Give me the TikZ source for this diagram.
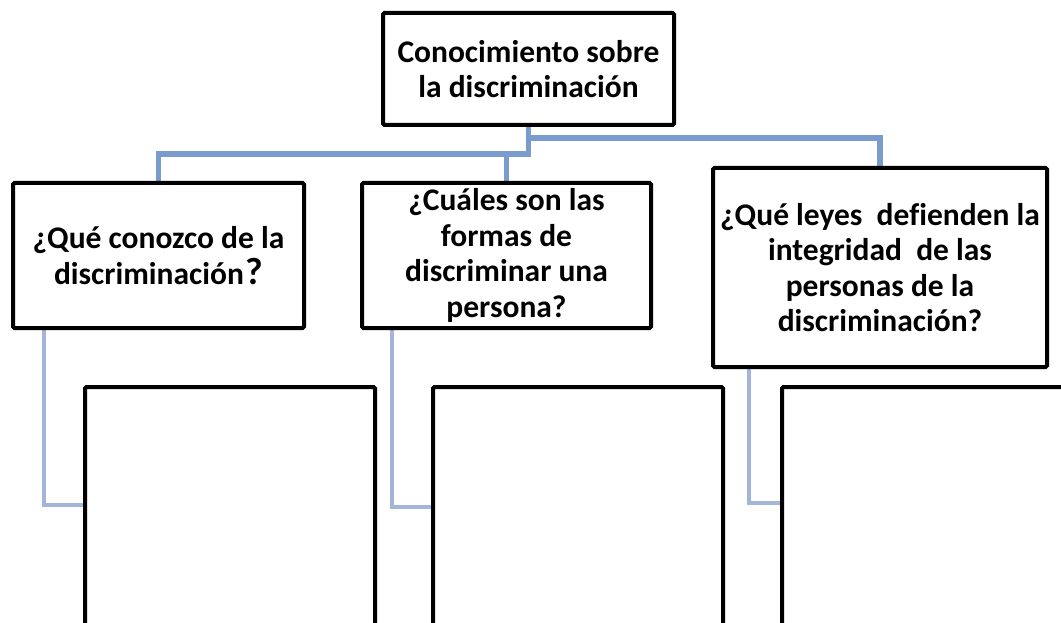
\documentclass[tikz,border=0pt]{standalone}
\usepackage{fontspec}
\setmainfont[Ligatures=NoCommon]{Carlito}
\usetikzlibrary{backgrounds}
\definecolor{connA}{HTML}{7A9BCD}
\definecolor{connB}{HTML}{A3B5D8}
\tikzset{
  box/.style={draw=black, line width=4pt, fill=white, rounded corners=1.5pt, inner sep=0pt, align=center,
    font=\fontsize{31.5}{35.5}\selectfont\bfseries},
  connup/.style={draw=connA, line width=5.5pt},
  connlow/.style={draw=connB, line width=4.5pt},
}
\begin{document}
\begin{tikzpicture}[x=1pt,y=-1pt]
\useasboundingbox (0,0) rectangle (1061,623);
\clip (0,0) rectangle (1061,623);
% top box 383-674, 13-125
\node[box, minimum width=291pt, minimum height=112pt] (top) at (528.5,69) {Conocimiento sobre\\la discriminación};
% level 2
\node[box, minimum width=291pt, minimum height=145pt] (left) at (158.5,255.5) {¿Qué conozco de la\\discriminación\kern1.5pt{\fontsize{38}{35.5}\selectfont ?}};
\node[box, minimum width=289pt, minimum height=145pt] (mid) at (506.5,255.5) {¿Cuáles son las\\formas de\\discriminar una\\persona?};
\node[box, minimum width=334pt, minimum height=199pt] (right) at (880,267.5) {¿Qué leyes\ \ defienden la\\integridad\ \ de las\\personas de la\\discriminación?};
% level 3 (extend beyond the lower edge)
\node[box, minimum width=290pt, minimum height=313pt] (low1) at (230,543.5) {};
\node[box, minimum width=290pt, minimum height=313pt] (low2) at (578,543.5) {};
\node[box, minimum width=318pt, minimum height=313pt] (low3) at (941,543.5) {};
\coordinate (ya) at (0,154);
\coordinate (yb) at (0,138);
\coordinate (l1) at (0,505);
\coordinate (l2) at (0,507);
\coordinate (l3) at (0,503);
\coordinate (x1) at (44,0);
\coordinate (x2) at (392,0);
\coordinate (x3) at (749,0);
\begin{scope}[on background layer]
  \draw[connup] (top.south) -- (top.south |- ya) -| (left.north);
  \draw[connup] (mid.north) -- (mid.north |- ya);
  \draw[connup] (top.south |- yb) -| (right.north);
  \draw[connlow] (x1 |- left.south) |- (low1.west |- l1);
  \draw[connlow] (x2 |- mid.south) |- (low2.west |- l2);
  \draw[connlow] (x3 |- right.south) |- (low3.west |- l3);
\end{scope}
\end{tikzpicture}
\end{document}
